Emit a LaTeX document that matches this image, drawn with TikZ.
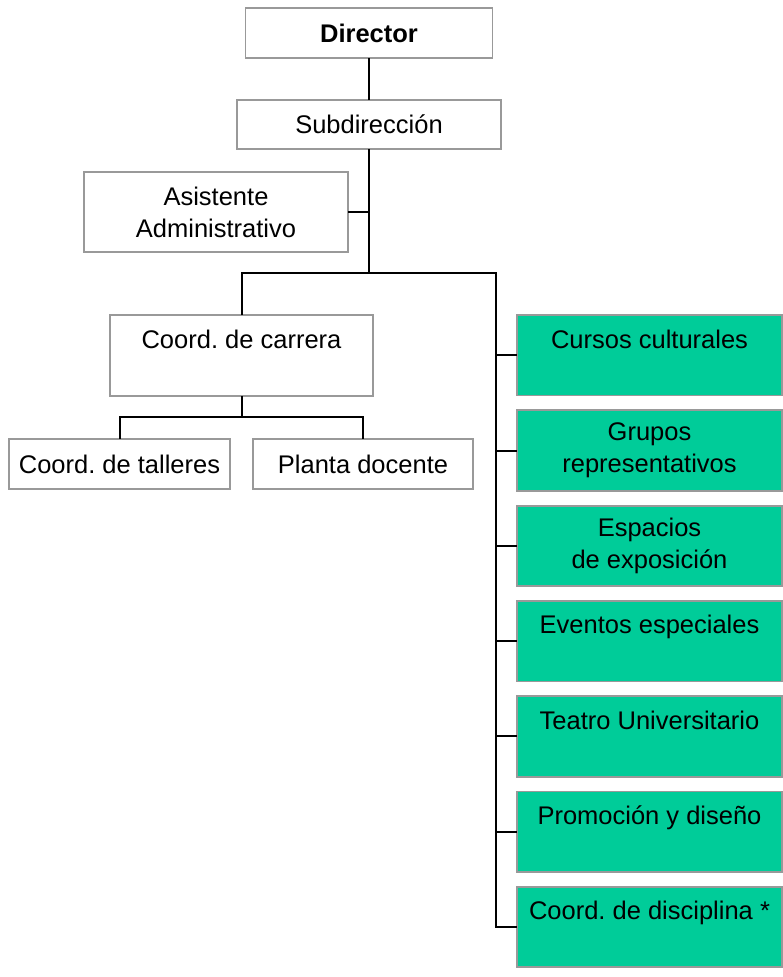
\documentclass[tikz,border=0pt]{standalone}
\usepackage{fontspec}
\setmainfont{Liberation Sans}
\frenchspacing
\definecolor{boxgray}{HTML}{999999}
\definecolor{boxgreen}{HTML}{00CC99}
\begin{document}
\begin{tikzpicture}[x=1pt,y=-1pt]
\begin{scope}

\tikzstyle{box1} = [draw=boxgray,line width=1.8pt,inner sep=0pt,outer sep=0pt,fill=white,align=center,font=\fontsize{25.5}{32}\selectfont];
\tikzstyle{box2} = [box1,fill=boxgreen,minimum width=265pt,minimum height=80.5pt];
\tikzstyle{txt1} = [inner sep=0pt,anchor=base,font=\fontsize{25.5}{32}\selectfont];
\tikzstyle{link} = [line width=2pt,black];

\useasboundingbox (0,0) rectangle (783,977);

\node [box1,minimum width=247pt,minimum height=50pt] (d1) at (369,33) {\textbf{Director}};
\node [box1,minimum width=264pt,minimum height=49pt] (d2) at (369,124.5) {Subdirecci\'on};
\node [box1,minimum width=264pt,minimum height=80pt] (a1) at (216,212) {Asistente\\Administrativo};

\node [box1,minimum width=263pt,minimum height=81pt] (c1) at (241.5,355.5) {};
\node [txt1] (c11) at ([yshift=-33pt]c1.north) {Coord. de carrera};
\node [box1,minimum width=221pt,minimum height=50pt] (c2) at (119.5,464) {Coord. de talleres};
\node [box1,minimum width=220pt,minimum height=50pt] (c3) at (363,464) {Planta docente};

\node [box2,anchor=north] (g1) at (649.5,315) {};
\node [txt1] (g11) at ([yshift=-33pt]g1.north) {Cursos culturales};
\node [box2,anchor=north] (g2) at ([yshift=-14.8pt]g1.south) {Grupos\\representativos};
\node [box2,anchor=north] (g3) at ([yshift=-14.8pt]g2.south) {Espacios\\de exposici\'on};
\node [box2,anchor=north] (g4) at ([yshift=-14.8pt]g3.south) {};
\node [txt1] (g41) at ([yshift=-33pt]g4.north) {Eventos especiales};
\node [box2,anchor=north] (g5) at ([yshift=-14.8pt]g4.south) {};
\node [txt1] (g51) at ([yshift=-33pt]g5.north) {Teatro Universitario};
\node [box2,anchor=north] (g6) at ([yshift=-14.8pt]g5.south) {};
\node [txt1] (g61) at ([yshift=-33pt]g6.north) {Promoci\'on y dise\~no};
\node [box2,anchor=north] (g7) at ([yshift=-14.8pt]g6.south) {};
\node [txt1] (g71) at ([yshift=-33pt]g7.north) {Coord. de disciplina *};

\coordinate (b1) at (369,273);
\coordinate (b2) at (496,273);
\coordinate (b3) at ([yshift=-21pt]c1.south);

\draw [link] (d1.south) -- (d2.north);
\draw [link] (d2.south) -- (b1);
\draw [link] (a1.east) -- (a1.east -| b1);
\draw [link] (c1.north) -- (c1.north |- b1) -- (b2) -- (b2 |- g7.west) -- (g7.west);
\draw [link] (b2 |- g1.west) -- (g1.west);
\draw [link] (b2 |- g2.west) -- (g2.west);
\draw [link] (b2 |- g3.west) -- (g3.west);
\draw [link] (b2 |- g4.west) -- (g4.west);
\draw [link] (b2 |- g5.west) -- (g5.west);
\draw [link] (b2 |- g6.west) -- (g6.west);
\draw [link] (c1.south) -- (b3);
\draw [link] (c2.north) -- (c2.north |- b3) -- (c3.north |- b3) -- (c3.north);

\end{scope}
\end{tikzpicture}
\end{document}
